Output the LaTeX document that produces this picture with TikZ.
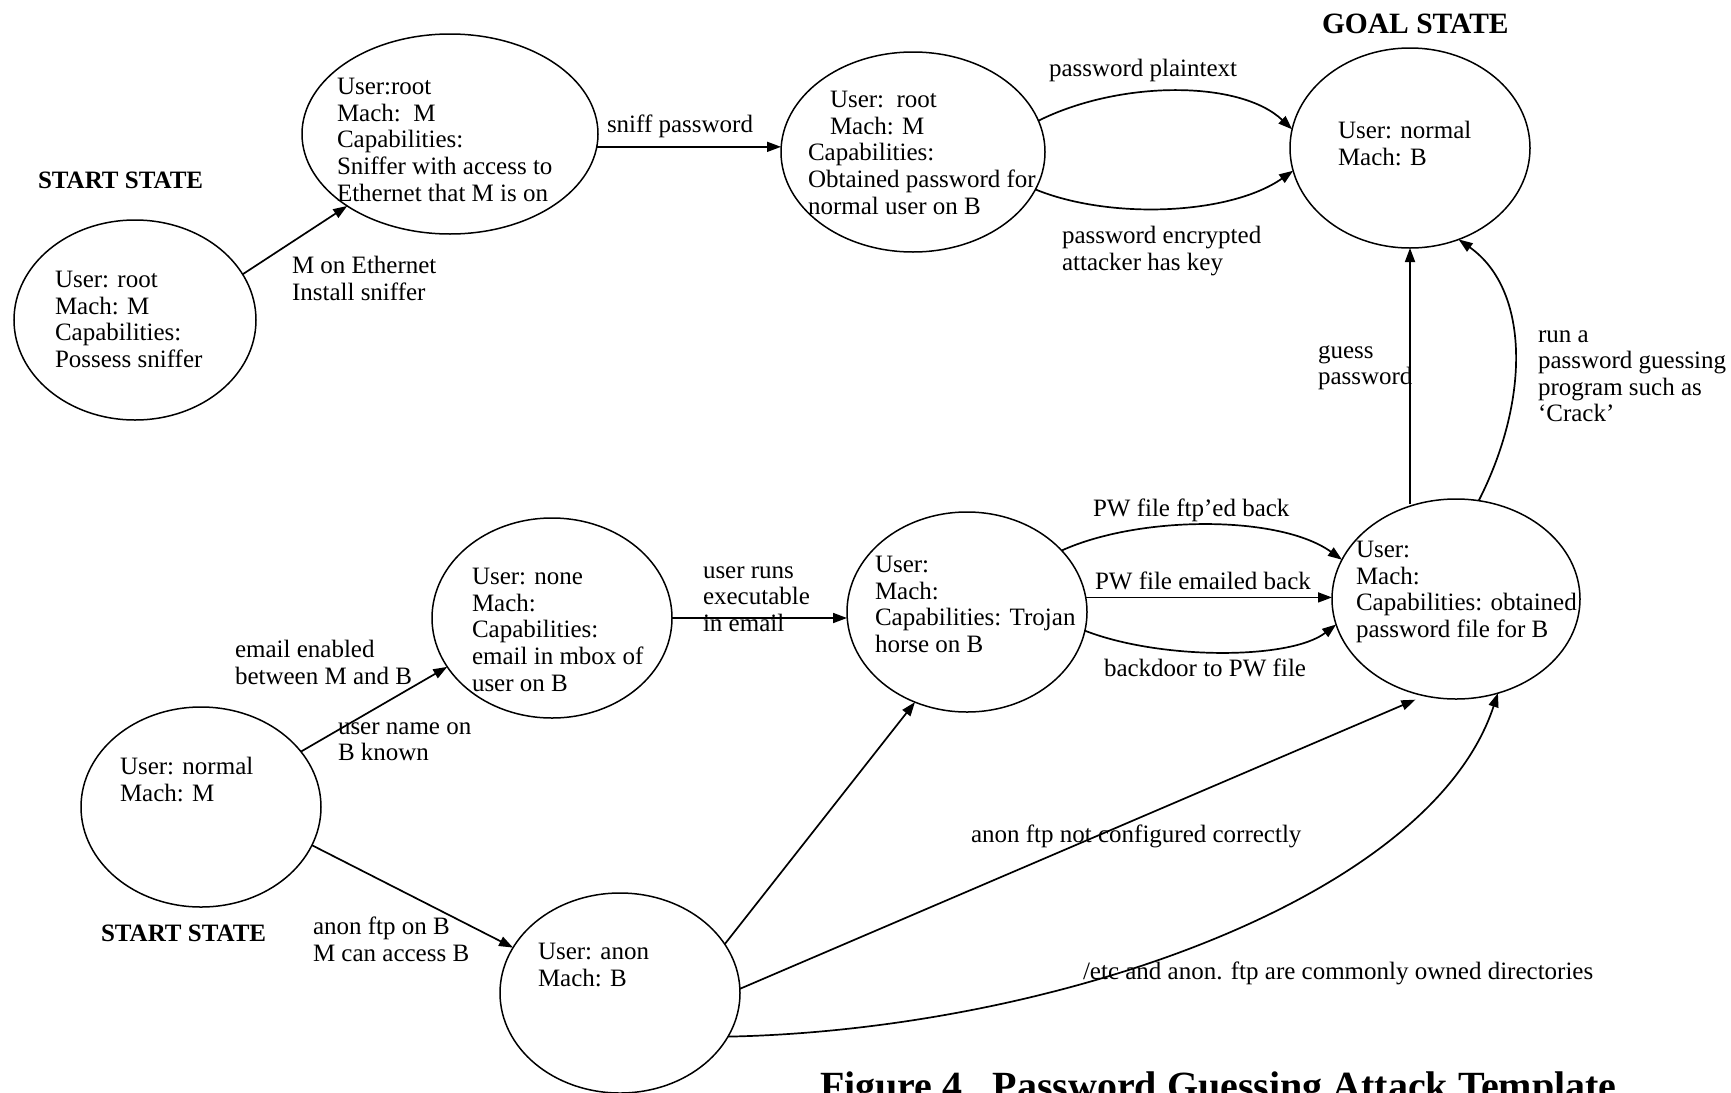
\documentclass[tikz,border=0pt]{standalone}
\usepackage{fontspec}
\setmainfont{Liberation Serif}
\usetikzlibrary{shapes.geometric,arrows.meta}

\begin{document}
\begin{tikzpicture}[x=1pt,y=-1pt,
  state/.style={draw, ellipse, line width=1.5pt, inner sep=0pt, outer sep=0pt},
  txt/.style={anchor=north west, inner sep=0pt, outer sep=0pt, align=left,
    font=\fontsize{25}{26.6}\selectfont, execute at begin node=\strut},
  ttl/.style={anchor=base west, inner sep=0pt, outer sep=0pt,
    font=\bfseries\fontsize{25}{30}\selectfont},
  arr/.style={line width=1.7pt, -{Triangle[length=14pt,width=10pt]}},
]
\useasboundingbox (0,0) rectangle (1731,1092);
\fill[white] (0,0) rectangle (1731,1092);
\clip (0,0) rectangle (1731,1092);

% ---------- states ----------
\node[state, minimum width=242pt, minimum height=200pt] (s1) at (135,320) {};
\node[state, minimum width=296pt, minimum height=200pt] (s2) at (450,134) {};
\node[state, minimum width=264pt, minimum height=200pt] (s3) at (913,152) {};
\node[state, minimum width=240pt, minimum height=200pt] (goal) at (1410,148) {};
\node[state, minimum width=240pt, minimum height=200pt] (s4) at (552,618) {};
\node[state, minimum width=240pt, minimum height=200pt] (s5) at (201,807) {};
\node[state, minimum width=240pt, minimum height=200pt] (s6) at (967,612) {};
\node[state, minimum width=248pt, minimum height=200pt] (s7) at (1456,599) {};
\node[state, minimum width=240pt, minimum height=200pt] (anon) at (620,993) {};

% ---------- state contents ----------
\node[txt] (t1) at (55,271.3) {User: root\\Mach: M\\Capabilities:\\Possess sniffer};
\node[txt] (t2) at (337,78.3) {User:root\\Mach:\ \ M\\Capabilities:\\Sniffer with access to\\Ethernet that M is on};
\node[txt] (t3) at (808,91.3) {\hspace*{22pt}User:\ \ root\\\hspace*{22pt}Mach: M\\Capabilities:\\Obtained password for\\normal user on B};
\node[txt] (tg) at (1338,121.3) {User: normal\\Mach: B};
\node[txt] (t4) at (472,568.3) {User: none\\Mach:\\Capabilities:\\email in mbox of\\user on B};
\node[txt] (t5) at (120,757.3) {User: normal\\Mach: M};
\node[txt] (t6) at (875,556.3) {User:\\Mach:\\Capabilities: Trojan\\horse on B};
\node[txt] (t7) at (1356,541.3) {User:\\Mach:\\Capabilities: obtained\\password file for B};
\node[txt] (ta) at (538,943.3) {User: anon\\Mach: B};

% ---------- titles ----------
\node[ttl] (start1) at (38,188) {START STATE};
\node[ttl] (start2) at (101,941) {START STATE};
\node[ttl, font=\bfseries\fontsize{29.5}{34}\selectfont] (goaltitle) at (1322,33) {GOAL STATE};
\node[ttl, font=\bfseries\fontsize{40}{46}\selectfont] (caption) at (820,1099.5) {Figure 4.\ \ Password Guessing Attack Template};

% ---------- transitions ----------
\draw[arr] (s1.23.5) -- (s2.215);
\draw[arr] (s2.-5.8) -- (s2.-5.8 -| s3.west);
\draw[arr] (s3.14.8) .. controls (1120,80) and (1240,80) .. (goal.171.1);
\draw[arr] (s3.-17.2) .. controls (1110,220) and (1230,215) .. (goal.191.5);
\draw[arr] (goal.south |- s7.112) -- (goal.south);
\draw[arr] (s7.77.5) .. controls (1530,400) and (1530,290) .. (goal.-62.4);
\draw[arr] (s5.29.5) -- (s4.205.9);
\draw[arr] (s5.-19.7) -- (anon.157.4);
\draw[arr] (s4.east) -- (s4.east -| s6.west);
\draw[arr] (anon.25.5) -- (s6.240.3);
\draw[arr] (s6.33.4) .. controls (1140,515) and (1280,515) .. (s7.161.7);
\draw[arr] (s6.7.6) -- (s6.7.6 -| s7.west);
\draw[arr] (s6.-9.6) .. controls (1160,660) and (1290,660) .. (s7.192.4);
\draw[arr, shorten >=10pt] (anon.2.3) -- (s7.252.9);
\draw[arr] (anon.-22.4) .. controls (1050,1030) and (1430,900) .. (s7.-66.9);

% ---------- transition labels ----------
\node[txt] (l1) at (292,256.3) {M on Ethernet\\Install sniffer};
\node[txt] (l2) at (607,114.3) {sniff password};
\node[txt] (l3) at (1049,58.3) {password plaintext};
\node[txt] (l4) at (1062,226.3) {password encrypted\\attacker has key};
\node[txt] (l5) at (1318,345.3) {guess\\password};
\node[txt] (l6) at (1538,330.3) {run a\\password guessing\\program such as\\‘Crack’};
\node[txt] (l7) at (235,640.3) {email enabled\\between M and B};
\node[txt] (l8) at (338,722.3) {user name on\\B known};
\node[txt] (l9) at (703,566.3) {user runs\\executable\\in email};
\node[txt] (l10) at (1093,498.3) {PW file ftp’ed back};
\node[txt] (l11) at (1095,571.3) {PW file emailed back};
\node[txt] (l12) at (1104,658.3) {backdoor to PW file};
\node[txt] (l13) at (313,917.3) {anon ftp on B\\M can access B};
\node[txt] (l14) at (971,824.3) {anon ftp not configured correctly};
\node[txt] (l15) at (1083,961.3) {/etc and anon. ftp are commonly owned directories};
\end{tikzpicture}
\end{document}
